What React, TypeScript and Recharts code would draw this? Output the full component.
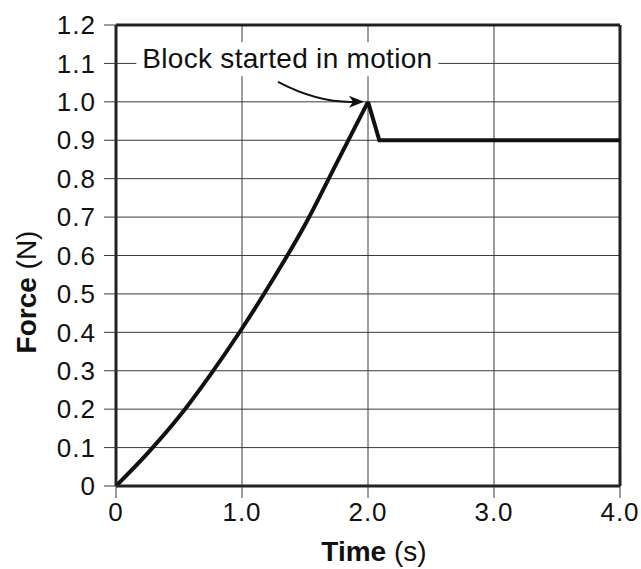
import {
  CartesianGrid,
  Line,
  LineChart,
  ReferenceDot,
  ReferenceLine,
  XAxis,
  YAxis,
} from "recharts";

// static friction build-up
const riseTime = [0, 0.25, 0.5, 0.75, 1.0, 1.25, 1.5, 1.75, 2.0];
const riseForce = [0, 0.085, 0.18, 0.29, 0.41, 0.54, 0.68, 0.84, 1.0];

// kinetic friction after slipping
const slipTime = [2.0, 2.09, 4.0];
const slipForce = [1.0, 0.9, 0.9];

const xTicks = [0, 1, 2, 3, 4];
const yTicks = [0, 0.1, 0.2, 0.3, 0.4, 0.5, 0.6, 0.7, 0.8, 0.9, 1.0, 1.1, 1.2];

const annotation = "Block started in motion";

const riseData = riseTime.map((t, i) => ({ time: t, force: riseForce[i] }));
const slipData = slipTime.map((t, i) => ({ time: t, force: slipForce[i] }));

const FONT = '"Liberation Sans", Arial, sans-serif';
const INK = "#111";
const GRID = "#3a3a3a";

const fmt = (v: number) => (v === 0 ? "0" : v.toFixed(1));

const tickStyle = { fontSize: 26, fill: INK, fontFamily: FONT, letterSpacing: 1 };

function AnnotationText(props: any) {
  const { cx, cy } = props;
  return (
    <g>
      <rect x={cx - 151} y={cy - 17} width={302} height={34} fill="#fff" />
      <text
        x={cx}
        y={cy + 9}
        textAnchor="middle"
        fontSize={28}
        fontFamily={FONT}
        fill={INK}
        letterSpacing={0.3}
      >
        {annotation}
      </text>
    </g>
  );
}

function PeakArrow(props: any) {
  const { cx, cy } = props;
  return (
    <g>
      <path
        d={`M${cx - 90},${cy - 20} Q${cx - 50},${cy + 1} ${cx - 14},${cy}`}
        fill="none"
        stroke={INK}
        strokeWidth={2}
      />
      <path
        d={`M${cx - 4},${cy} L${cx - 19},${cy - 6} L${cx - 15},${cy} L${cx - 19},${cy + 6} Z`}
        fill={INK}
      />
    </g>
  );
}

function XTitle(props: any) {
  const vb = props.viewBox;
  return (
    <text
      x={vb.x + vb.width / 2 + 6}
      y={vb.y + vb.height - 8}
      textAnchor="middle"
      fontSize={28}
      fontFamily={FONT}
      fill={INK}
    >
      <tspan fontWeight="bold">Time</tspan>
      <tspan> (s)</tspan>
    </text>
  );
}

function YTitle() {
  return (
    <text
      x={36}
      y={292}
      transform="rotate(-90, 36, 292)"
      textAnchor="middle"
      fontSize={28}
      fontFamily={FONT}
      fill={INK}
    >
      <tspan fontWeight="bold">Force</tspan>
      <tspan> (N)</tspan>
    </text>
  );
}

export default function App() {
  return (
    <div style={{ position: "absolute", left: 0, top: 0, background: "#fff" }}>
      <LineChart
        width={641}
        height={569}
        margin={{ top: 25, right: 21, bottom: 0, left: 0 }}
      >
        <CartesianGrid stroke={GRID} strokeWidth={1} />
        <XAxis
          type="number"
          dataKey="time"
          domain={[0, 4]}
          ticks={xTicks}
          tickFormatter={fmt}
          height={83}
          tickSize={12}
          tickMargin={5}
          tick={tickStyle}
          axisLine={{ stroke: "#222", strokeWidth: 3 }}
          tickLine={{ stroke: GRID, strokeWidth: 1 }}
          allowDuplicatedCategory={false}
          label={<XTitle />}
        />
        <YAxis
          type="number"
          domain={[0, 1.2]}
          ticks={yTicks}
          tickFormatter={fmt}
          width={116}
          tickSize={12}
          tickMargin={8}
          tick={tickStyle}
          axisLine={{ stroke: "#222", strokeWidth: 3 }}
          tickLine={{ stroke: GRID, strokeWidth: 1 }}
          label={<YTitle />}
        />
        <ReferenceLine y={1.2} stroke="#222" strokeWidth={3} />
        <ReferenceLine x={4} stroke="#222" strokeWidth={3} />
        <Line
          data={riseData}
          dataKey="force"
          type="monotone"
          stroke={INK}
          strokeWidth={4}
          dot={false}
          activeDot={false}
          isAnimationActive={false}
        />
        <Line
          data={slipData}
          dataKey="force"
          type="linear"
          stroke={INK}
          strokeWidth={4}
          strokeLinejoin="miter"
          dot={false}
          activeDot={false}
          isAnimationActive={false}
        />
        <ReferenceDot x={1.36} y={1.111} r={0} shape={AnnotationText} />
        <ReferenceDot x={2} y={1} r={0} shape={PeakArrow} />
      </LineChart>
    </div>
  );
}
